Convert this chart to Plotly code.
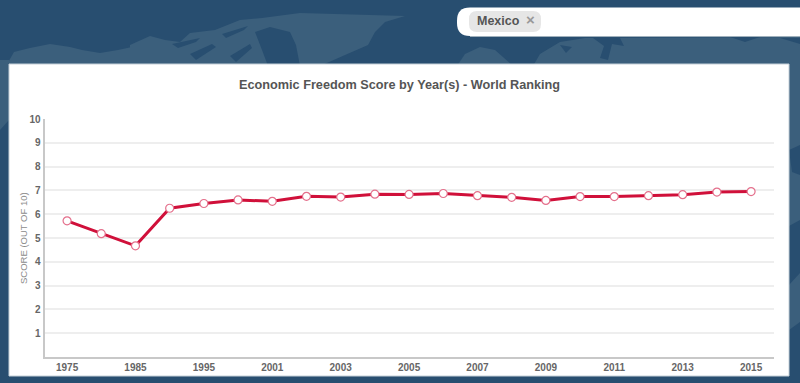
import plotly.graph_objects as go

years = ["1975","1980","1985","1990","1995","2000","2001","2002","2003","2004","2005",
         "2006","2007","2008","2009","2010","2011","2012","2013","2014","2015"]
scores = [5.72,5.18,4.67,6.25,6.45,6.60,6.54,6.75,6.72,6.84,6.83,
          6.87,6.78,6.71,6.58,6.74,6.74,6.78,6.82,6.93,6.95]
shown_years = ["1975","1985","1995","2001","2003","2005","2007","2009","2011","2013","2015"]
y_ticks = [1,2,3,4,5,6,7,8,9,10]

W, H = 800, 383
FONT = "Liberation Sans, Arial, sans-serif"
BG = "#284e70"
LAND = "#3b5f7c"

def path(points):
    return "M" + "L".join(f"{x/W:.5f},{1-y/H:.5f}" for x, y in points) + "Z"

land = [
    # Alaska / northern Canada
    [(6,66),(14,52),(30,48),(50,44),(70,47),(82,50),(100,53),(118,50),(132,47),(145,66)],
    # Arctic islands joined with Greenland
    [(130,45),(150,36),(165,40),(180,42),(190,33),(215,30),(240,20),(262,18),(300,13),(405,16),
     (385,22),(375,32),(368,45),(345,55),(320,66),(300,66),(296,45),(290,32),(270,27),(255,32),
     (262,50),(268,66),(130,66)],
    # Scandinavia
    [(457,66),(465,54),(480,47),(495,50),(513,66)],
    # Eurasia
    [(533,66),(540,54),(560,42),(585,38),(800,37),(800,220),(789,226),(789,66)],
    # Lower right
    [(789,285),(800,273),(800,322),(789,330)],
    # Left strip
    [(0,60),(9,60),(9,120),(0,130)],
]
water = [
    [(593,38),(620,38),(624,46),(612,44),(608,60),(600,58),(604,46)],
    [(560,45),(572,47),(566,53)],
    [(730,37),(760,37),(745,42)],
    [(780,38),(800,38),(800,44)],
    [(172,44),(200,38),(196,42),(178,48)],
    [(190,54),(212,44),(216,47),(196,60)],
    [(222,34),(248,26),(244,30),(226,38)],
    [(230,56),(250,44),(252,48),(236,62)],
    [(789,150),(800,145),(800,175),(792,172)],
]
shapes = [dict(type="rect", xref="paper", yref="paper", x0=0, x1=1, y0=0, y1=1,
               fillcolor=BG, line_width=0, layer="below")]
for poly in land:
    shapes.append(dict(type="path", xref="paper", yref="paper", path=path(poly),
                       fillcolor=LAND, line_width=0, layer="below"))
for poly in water:
    shapes.append(dict(type="path", xref="paper", yref="paper", path=path(poly),
                       fillcolor=BG, line_width=0, layer="below"))
# chart panel
shapes.append(dict(type="rect", xref="paper", yref="paper",
                   x0=9/W, x1=789/W, y0=1-376/H, y1=1-64/H,
                   fillcolor="white", line=dict(color="#c5d0d8", width=1), layer="below"))
# search box
def rounded_left(x0, x1, y0, y1, r):
    fx = lambda v: f"{v/W:.5f}"
    fy = lambda v: f"{1-v/H:.5f}"
    return (f"M{fx(x1)},{fy(y0)}L{fx(x0+r)},{fy(y0)}Q{fx(x0)},{fy(y0)} {fx(x0)},{fy(y0+r)}"
            f"L{fx(x0)},{fy(y1-r)}Q{fx(x0)},{fy(y1)} {fx(x0+r)},{fy(y1)}L{fx(x1)},{fy(y1)}Z")
shapes.append(dict(type="path", xref="paper", yref="paper", path=rounded_left(457,800,7.5,36,13),
                   fillcolor="white", line_width=0, layer="below"))
shapes.append(dict(type="line", xref="paper", yref="paper", x0=470/W, x1=1, y0=1-36.5/H, y1=1-36.5/H,
                   line=dict(color="#9fb0bc", width=1), layer="below"))
def chip(x0, x1, y0, y1, r):
    fx = lambda v: f"{v/W:.5f}"
    fy = lambda v: f"{1-v/H:.5f}"
    return (f"M{fx(x0+r)},{fy(y0)}L{fx(x1-r)},{fy(y0)}Q{fx(x1)},{fy(y0)} {fx(x1)},{fy(y0+r)}"
            f"L{fx(x1)},{fy(y1-r)}Q{fx(x1)},{fy(y1)} {fx(x1-r)},{fy(y1)}L{fx(x0+r)},{fy(y1)}"
            f"Q{fx(x0)},{fy(y1)} {fx(x0)},{fy(y1-r)}L{fx(x0)},{fy(y0+r)}Q{fx(x0)},{fy(y0)} {fx(x0+r)},{fy(y0)}Z")
shapes.append(dict(type="path", xref="paper", yref="paper", path=chip(469,541,11,32,8),
                   fillcolor="#e6e6e6", line_width=0, layer="below"))

fig = go.Figure(go.Scatter(
    x=years, y=scores, mode="lines+markers",
    line=dict(color="#d0103a", width=3),
    marker=dict(size=8, color="white", line=dict(color="#e4708c", width=1.2)),
    hoverinfo="x+y",
))

fig.update_layout(
    width=W, height=H, autosize=False,
    margin=dict(l=0, r=0, t=0, b=0),
    paper_bgcolor=BG, plot_bgcolor="rgba(0,0,0,0)",
    showlegend=False, shapes=shapes,
    xaxis=dict(
        domain=[44.5/W, 774/W], type="category", categoryorder="array", categoryarray=years,
        range=[-0.66, 20.67], tickmode="array", tickvals=shown_years, ticktext=shown_years,
        showgrid=False, zeroline=False, showline=True, linecolor="#c8c8c8", linewidth=2,
        ticks="", ticklen=0, automargin=False,
        tickfont=dict(family=FONT, size=10, color="#666666", weight="bold"),
        anchor="y",
    ),
    yaxis=dict(
        domain=[1-357/H, 1-119/H], range=[0, 10], tickmode="array", tickvals=y_ticks,
        showgrid=True, gridcolor="#eeeeee", gridwidth=2, zeroline=False,
        showline=True, linecolor="#c8c8c8", linewidth=2, ticks="", automargin=False,
        tickfont=dict(family=FONT, size=10, color="#666666", weight="bold"),
        anchor="x",
    ),
    annotations=[
        dict(text="<b>Economic Freedom Score by Year(s) - World Ranking</b>", xref="paper", yref="paper",
             x=399/W, y=1-85/H, xanchor="center", yanchor="middle", showarrow=False,
             font=dict(family=FONT, size=12.7, color="#555555")),
        dict(text="SCORE (OUT OF 10)", xref="paper", yref="paper", x=23/W, y=1-238/H,
             xanchor="center", yanchor="middle", textangle=-90, showarrow=False,
             font=dict(family=FONT, size=9.5, color="#8c8c8c")),
        dict(text="<b>Mexico</b>", xref="paper", yref="paper", x=475/W, y=1-21/H,
             xanchor="left", yanchor="middle", showarrow=False,
             font=dict(family=FONT, size=12.5, color="#555555")),
        dict(text="<b>×</b>", xref="paper", yref="paper", x=530/W, y=1-19.5/H,
             xanchor="center", yanchor="middle", showarrow=False,
             font=dict(family=FONT, size=15, color="#999999")),
    ],
)

fig.write_html("out.html", config=dict(displayModeBar=False),
               post_script="document.body.style.margin='0';document.body.style.background='#284e70';")
